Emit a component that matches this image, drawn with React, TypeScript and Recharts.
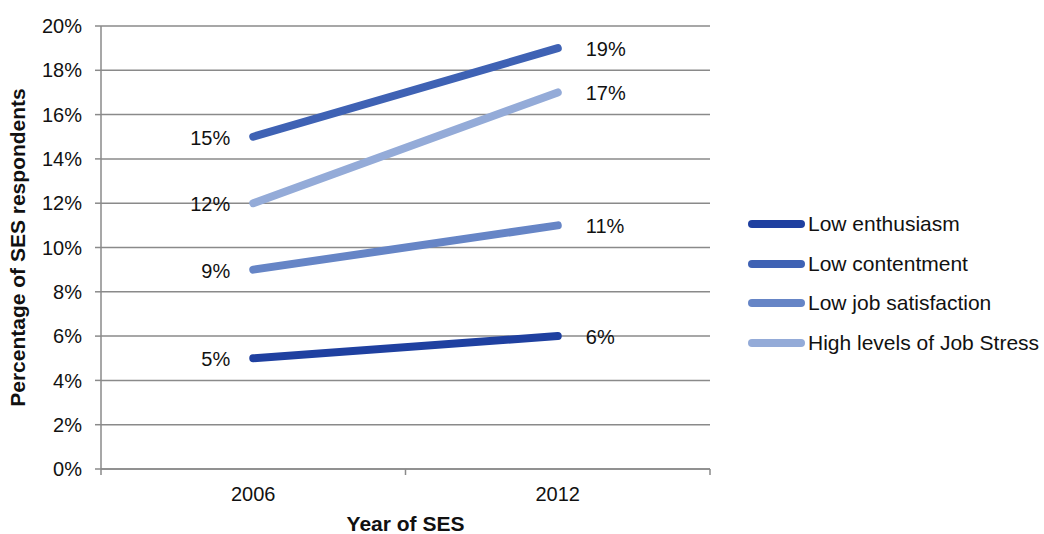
import React from 'react';
import { LineChart, Line, XAxis, YAxis, CartesianGrid, Legend, LabelList, Label } from 'recharts';

const years = ['2006', '2012'];
const lowEnthusiasm = [5, 6];
const lowContentment = [15, 19];
const lowJobSatisfaction = [9, 11];
const highJobStress = [12, 17];
const yTicks = [0, 2, 4, 6, 8, 10, 12, 14, 16, 18, 20];

const series = [
  { key: 'enthusiasm', name: 'Low enthusiasm', values: lowEnthusiasm, color: '#1f40a0' },
  { key: 'contentment', name: 'Low contentment', values: lowContentment, color: '#3f62b4' },
  { key: 'satisfaction', name: 'Low job satisfaction', values: lowJobSatisfaction, color: '#6685c6' },
  { key: 'stress', name: 'High levels of Job Stress', values: highJobStress, color: '#94abd8' },
];

const data = years.map((year, i) => {
  const row: Record<string, string | number> = { year };
  series.forEach((s) => {
    row[s.key] = s.values[i];
  });
  return row;
});

const FONT = '"Liberation Sans", Arial, sans-serif';
const GRID = '#8a8a8a';
const TXT = 20;

const PointLabel = (props: any) => {
  const { x, y, value, index } = props;
  const left = index === 0;
  return (
    <text
      x={left ? x - 23 : x + 28}
      y={y + 1}
      textAnchor={left ? 'end' : 'start'}
      dominantBaseline="central"
      fontSize={TXT}
      fontFamily={FONT}
      fill="#111"
    >
      {value}%
    </text>
  );
};

const YearTick = (props: any) => {
  const { x, y, payload, index, visibleTicksCount, width } = props;
  const band = width / visibleTicksCount;
  const last = index === visibleTicksCount - 1;
  return (
    <g>
      <line x1={x - band / 2} x2={x - band / 2} y1={y - 8} y2={y - 2} stroke={GRID} strokeWidth={1.5} />
      {last && <line x1={x + band / 2} x2={x + band / 2} y1={y - 8} y2={y - 2} stroke={GRID} strokeWidth={1.5} />}
      <text x={x} y={y + 24} textAnchor="middle" fontSize={TXT} fontFamily={FONT} fill="#111">
        {payload.value}
      </text>
    </g>
  );
};

const LegendContent = () => (
  <div style={{ fontFamily: FONT, fontSize: 21, color: '#111', whiteSpace: 'nowrap' }}>
    {series.map((s) => (
      <div key={s.key} style={{ display: 'flex', alignItems: 'center', height: 39.7 }}>
        <div style={{ width: 57, height: 8, borderRadius: 4, background: s.color, marginRight: 3 }} />
        <span>{s.name}</span>
      </div>
    ))}
  </div>
);

export default function App() {
  return (
    <div style={{ position: 'absolute', left: 0, top: 0, background: '#fff' }}>
      <LineChart width={1044} height={534} data={data} margin={{ top: 26, right: 334, bottom: 0, left: 0 }}>
        <CartesianGrid vertical={false} stroke={GRID} strokeWidth={1.5} />
        <XAxis
          dataKey="year"
          scale="band"
          height={65}
          stroke={GRID}
          strokeWidth={1.5}
          tickLine={false}
          tick={<YearTick />}
          interval={0}
        >
          <Label
            value="Year of SES"
            position="insideBottom"
            offset={3}
            style={{ fontFamily: FONT, fontSize: 21, fontWeight: 'bold', fill: '#111' }}
          />
        </XAxis>
        <YAxis
          width={101}
          domain={[0, 20]}
          ticks={yTicks}
          interval={0}
          tickFormatter={(v: number) => `${v}%`}
          stroke={GRID}
          strokeWidth={1.5}
          tickSize={6}
          tickMargin={13}
          tick={{ fontFamily: FONT, fontSize: TXT, fill: '#111' }}
        >
          <Label
            value="Percentage of SES respondents"
            angle={-90}
            position="insideLeft"
            offset={18}
            style={{ fontFamily: FONT, fontSize: 21, fontWeight: 'bold', fill: '#111', textAnchor: 'middle' }}
          />
        </YAxis>
        <Legend
          layout="vertical"
          align="center"
          verticalAlign="middle"
          content={<LegendContent />}
          wrapperStyle={{ left: 748, top: 204, width: 296 }}
        />
        {series.map((s) => (
          <Line
            key={s.key}
            dataKey={s.key}
            name={s.name}
            type="linear"
            stroke={s.color}
            strokeWidth={8}
            strokeLinecap="round"
            dot={false}
            activeDot={false}
            isAnimationActive={false}
          >
            <LabelList dataKey={s.key} content={<PointLabel />} />
          </Line>
        ))}
      </LineChart>
    </div>
  );
}
